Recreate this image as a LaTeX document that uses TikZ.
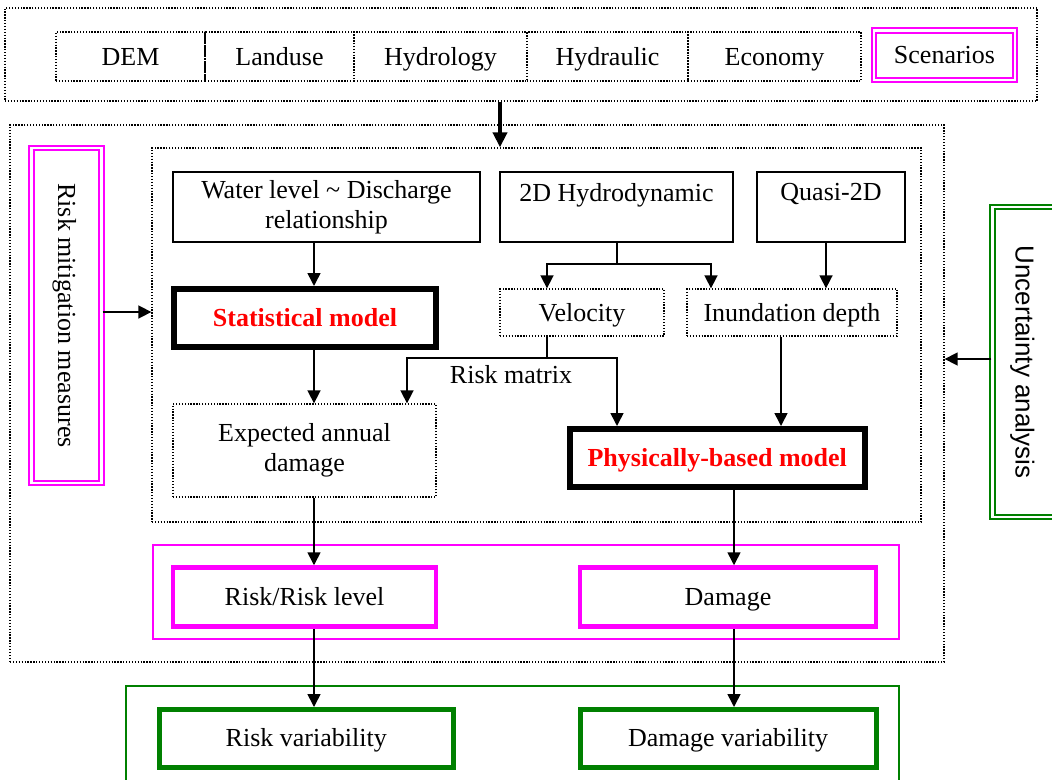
\documentclass[tikz,border=0pt]{standalone}
\usepackage{fontspec}
\setmainfont{Liberation Serif}
\newfontfamily\sansf{Liberation Sans}
\usetikzlibrary{arrows.meta}
\definecolor{mag}{RGB}{255,0,255}
\definecolor{grn}{RGB}{0,128,0}
\definecolor{rd}{RGB}{255,0,0}
\begin{document}
\begin{tikzpicture}[x=1pt,y=-1pt,
  every node/.style={font=\fontsize{26}{30}\selectfont, inner sep=0pt, align=center},
  oneline/.style={text height=19pt, text depth=2pt},
  dotbox/.style={draw, line width=1.3pt, dash pattern=on 1.3pt off 1.6pt},
  solidbox/.style={draw, line width=2pt},
  thickbox/.style={draw, line width=6pt},
  magthick/.style={draw=mag, line width=4.5pt},
  grnthick/.style={draw=grn, line width=5pt},
  magthin/.style={draw=mag, line width=1.6pt},
  grnthin/.style={draw=grn, line width=1.6pt},
  magdouble/.style={draw=mag, line width=2pt, double=white, double distance=2.5pt},
  grndouble/.style={draw=grn, line width=2pt, double=white, double distance=2.5pt},
  modeltext/.style={text=rd, font=\fontsize{26}{30}\selectfont\bfseries},
  arr/.style={line width=1.6pt, -{Triangle[length=13pt,width=13pt]}},
  bigarr/.style={line width=4pt, -{Triangle[length=15pt,width=14pt]}}]
\useasboundingbox (0,0) rectangle (1052,779);

% input data row
\node[dotbox, minimum width=1032, minimum height=93] (top) at (521,54.5) {};
\node[dotbox, oneline, minimum width=149, minimum height=49] (dem) at (130.5,56.5) {DEM};
\node[dotbox, oneline, minimum width=149, minimum height=49] (land) at (279.5,56.5) {Landuse};
\node[dotbox, oneline, minimum width=173, minimum height=49] (hydro) at (440.5,56.5) {Hydrology};
\node[dotbox, oneline, minimum width=161, minimum height=49] (hydra) at (607.5,56.5) {Hydraulic};
\node[dotbox, oneline, minimum width=173, minimum height=49] (eco) at (774.5,56.5) {Economy};
\node[magdouble, oneline, minimum width=141, minimum height=49.5] (scen) at (944.5,55.25) {Scenarios};

% modelling frame
\node[dotbox, minimum width=934, minimum height=537] (main) at (477,393.5) {};
\node[dotbox, minimum width=769, minimum height=374] (inner) at (536.5,335) {};

% side boxes
\node[magdouble, oneline, rotate=-90, minimum width=335, minimum height=70] (mitig) at (66.5,315.5) {Risk mitigation measures};
\node[grndouble, oneline, rotate=-90, minimum width=310, minimum height=63.5] (unc) at (1024,362) {\sansf Uncertainty analysis};

% models
\node[solidbox, minimum width=307, minimum height=70] (wl) at (326.5,207) {Water level \textasciitilde{} Discharge\\relationship};
\node[solidbox, minimum width=233, minimum height=70] (hd) at (616.5,207) {2D Hydrodynamic\\\mbox{}};
\node[solidbox, minimum width=148, minimum height=70] (qd) at (831,207) {Quasi-2D\\\mbox{}};
\node[thickbox, modeltext, oneline, minimum width=262, minimum height=58] (stat) at (305,318) {Statistical model};
\node[dotbox, oneline, minimum width=164, minimum height=47] (vel) at (582,312.5) {Velocity};
\node[dotbox, oneline, minimum width=210, minimum height=47] (ind) at (792,312.5) {Inundation depth};
\node[dotbox, minimum width=263, minimum height=93] (ead) at (304.5,450.5) {Expected annual\\damage};
\node[thickbox, modeltext, oneline, minimum width=294.5, minimum height=58] (phys) at (717.25,458) {Physically-based model};
\node[oneline] (rm) at (511,375) {Risk matrix};

% outputs
\node[magthin, minimum width=746, minimum height=94] (outm) at (526,592) {};
\node[magthick, oneline, minimum width=263, minimum height=59] (rl) at (304.5,597) {Risk/Risk level};
\node[magthick, oneline, minimum width=296, minimum height=59] (dmg) at (728,597) {Damage};
\node[grnthin, minimum width=773, minimum height=104] (outg) at (512.5,738) {};
\node[grnthick, oneline, minimum width=293.5, minimum height=57.5] (rv) at (306.25,738.25) {Risk variability};
\node[grnthick, oneline, minimum width=296, minimum height=57.5] (dv) at (728,738.25) {Damage variability};

% connector columns and junctions
\coordinate (xin) at (500,0);
\coordinate (ymit) at (0,312);
\coordinate (yunc) at (0,359);
\coordinate (xl) at (314,0);
\coordinate (xr) at (734,0);
\coordinate (xv) at (547,0);
\coordinate (xi) at (711,0);
\coordinate (xq) at (826,0);
\coordinate (xe) at (407,0);
\coordinate (xp) at (617,0);
\coordinate (xd) at (781,0);
\coordinate (j1) at (617,264);
\coordinate (j2) at (547,358);

\draw[bigarr] (top.south -| xin) -- (inner.north -| xin);
\draw[arr] (mitig.north |- ymit) -- (inner.west |- ymit);
\draw[arr] (unc.south |- yunc) -- (main.east |- yunc);

\draw[arr] (wl.south -| xl) -- (stat.north -| xl);
\draw[line width=1.6pt] (hd.south -| j1) -- (j1);
\draw[arr] (j1) -| (vel.north -| xv);
\draw[arr] (j1) -| (ind.north -| xi);
\draw[arr] (qd.south -| xq) -- (ind.north -| xq);
\draw[arr] (stat.south -| xl) -- (ead.north -| xl);
\draw[line width=1.6pt] (vel.south -| j2) -- (j2);
\draw[arr] (j2) -| (ead.north -| xe);
\draw[arr] (j2) -| (phys.north -| xp);
\draw[arr] (ind.south -| xd) -- (phys.north -| xd);

\draw[arr] (ead.south -| xl) -- (rl.north -| xl);
\draw[arr] (phys.south -| xr) -- (dmg.north -| xr);
\draw[arr] (rl.south -| xl) -- (rv.north -| xl);
\draw[arr] (dmg.south -| xr) -- (dv.north -| xr);
\end{tikzpicture}
\end{document}
